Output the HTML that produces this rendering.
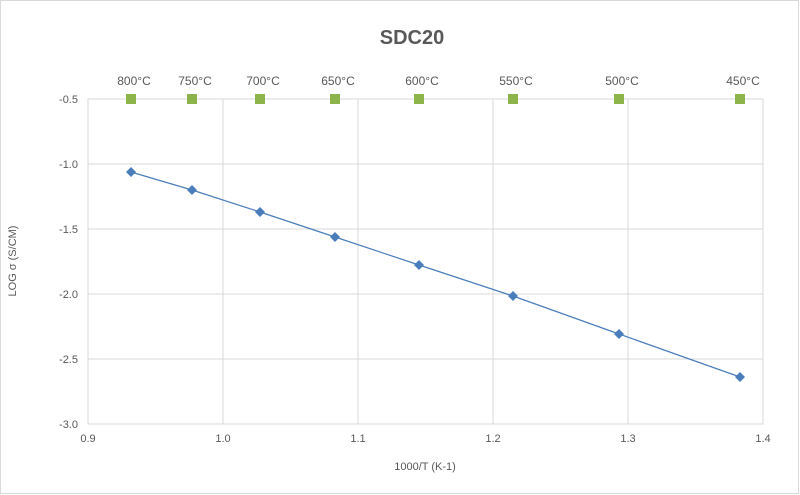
<!DOCTYPE html>
<html><head><style>body{margin:0;background:#fff}svg{display:block}text{font-family:"Liberation Sans",sans-serif;fill:#595959}</style></head><body>
<svg width="800" height="495" viewBox="0 0 800 495">
<rect x="0.5" y="0.5" width="798" height="493" fill="#fff" stroke="#d9d9d9"/>
<text x="412" y="44" text-anchor="middle" font-size="20" font-weight="bold" fill="#595959">SDC20</text>
<g stroke="#d9d9d9" stroke-width="1" fill="none">
<rect x="88" y="99" width="675" height="325"/>
<line x1="223" y1="99" x2="223" y2="424"/><line x1="358" y1="99" x2="358" y2="424"/><line x1="493" y1="99" x2="493" y2="424"/><line x1="628" y1="99" x2="628" y2="424"/>
<line x1="88" y1="164" x2="763" y2="164"/><line x1="88" y1="229" x2="763" y2="229"/><line x1="88" y1="294" x2="763" y2="294"/><line x1="88" y1="359" x2="763" y2="359"/>
</g>
<g font-size="11" text-anchor="end">
<text x="78" y="103">-0.5</text><text x="78" y="168">-1.0</text><text x="78" y="233">-1.5</text><text x="78" y="298">-2.0</text><text x="78" y="363">-2.5</text><text x="78" y="428">-3.0</text>
</g>
<g font-size="11" text-anchor="middle">
<text x="88" y="442">0.9</text><text x="223" y="442">1.0</text><text x="358" y="442">1.1</text><text x="493" y="442">1.2</text><text x="628" y="442">1.3</text><text x="763" y="442">1.4</text>
<text x="425" y="470">1000/T (K-1)</text>
</g>
<text transform="translate(16,261) rotate(-90)" font-size="11" text-anchor="middle">LOG σ (S/CM)</text>
<polyline points="131,172 192,190 260,212 335,237 419,265 513,296 619,334 740,377" fill="none" stroke="#4a7ebb" stroke-width="1.2"/>
<g fill="#4a7ebb">
<path d="M131,167l5,5l-5,5l-5,-5z"/><path d="M192,185l5,5l-5,5l-5,-5z"/><path d="M260,207l5,5l-5,5l-5,-5z"/><path d="M335,232l5,5l-5,5l-5,-5z"/><path d="M419,260l5,5l-5,5l-5,-5z"/><path d="M513,291l5,5l-5,5l-5,-5z"/><path d="M619,329l5,5l-5,5l-5,-5z"/><path d="M740,372l5,5l-5,5l-5,-5z"/>
</g>
<g fill="#8cb44a">
<rect x="126" y="94" width="10" height="10"/><rect x="187" y="94" width="10" height="10"/><rect x="255" y="94" width="10" height="10"/><rect x="330" y="94" width="10" height="10"/><rect x="414" y="94" width="10" height="10"/><rect x="508" y="94" width="10" height="10"/><rect x="614" y="94" width="10" height="10"/><rect x="735" y="94" width="10" height="10"/>
</g>
<g font-size="12" text-anchor="middle" style="fill:#404040">
<text x="134" y="85">800°C</text><text x="195" y="85">750°C</text><text x="263" y="85">700°C</text><text x="338" y="85">650°C</text><text x="422" y="85">600°C</text><text x="516" y="85">550°C</text><text x="622" y="85">500°C</text><text x="743" y="85">450°C</text>
</g>
</svg>
</body></html>
